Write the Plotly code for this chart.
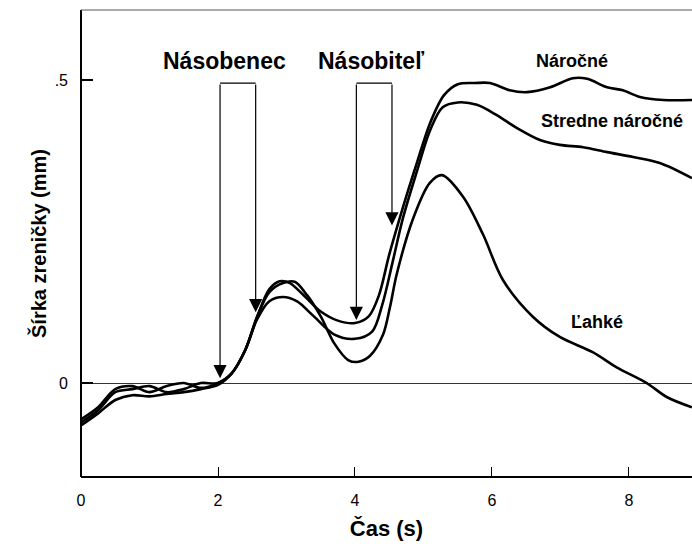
import plotly.graph_objects as go

# ---- data ----
t_narocne = [0, 0.25, 0.5, 0.75, 1.0, 1.25, 1.5, 1.75, 2.0, 2.2, 2.4, 2.57, 2.75, 2.9, 3.05, 3.25, 3.5, 3.75,
             4.0, 4.2, 4.35, 4.5, 4.7, 4.9, 5.1, 5.3, 5.5, 5.75, 5.97, 6.26, 6.51, 6.85, 7.18, 7.39, 7.68,
             7.91, 8.16, 8.5, 8.92]
y_narocne = [-0.06, -0.04, -0.01, -0.005, -0.015, -0.005, 0.0, -0.008, 0.0, 0.016, 0.055, 0.109, 0.155, 0.168,
             0.165, 0.145, 0.118, 0.103, 0.099, 0.11, 0.145, 0.212, 0.29, 0.362, 0.43, 0.475, 0.493, 0.495,
             0.495, 0.483, 0.48, 0.488, 0.503, 0.502, 0.488, 0.483, 0.472, 0.467, 0.467]

t_stredne = [0, 0.25, 0.5, 0.75, 1.0, 1.25, 1.5, 1.75, 2.0, 2.2, 2.4, 2.57, 2.75, 2.95, 3.15, 3.4, 3.7, 4.0,
             4.25, 4.4, 4.55, 4.7, 4.9, 5.1, 5.28, 5.5, 5.78, 6.07, 6.36, 6.7, 6.99, 7.33, 7.68, 8.06,
             8.45, 8.92]
y_stredne = [-0.065, -0.045, -0.015, -0.01, -0.005, -0.015, -0.01, 0.0, 0.0, 0.016, 0.055, 0.105, 0.135, 0.142,
             0.135, 0.11, 0.08, 0.073, 0.085, 0.13, 0.2, 0.272, 0.348, 0.418, 0.455, 0.463, 0.459, 0.442,
             0.421, 0.401, 0.393, 0.389, 0.381, 0.373, 0.363, 0.338]

t_lahke = [0, 0.25, 0.5, 0.75, 1.0, 1.25, 1.5, 1.75, 2.0, 2.2, 2.4, 2.57, 2.75, 2.95, 3.12, 3.3, 3.5, 3.7,
           3.9, 4.05, 4.22, 4.41, 4.51, 4.61, 4.85, 5.09, 5.27, 5.58, 5.87, 6.16, 6.6, 6.99, 7.47, 7.82,
           8.26, 8.55, 8.92]
y_lahke = [-0.07, -0.05, -0.028, -0.02, -0.022, -0.018, -0.015, -0.01, -0.003, 0.016, 0.055, 0.109, 0.15,
           0.165, 0.167, 0.145, 0.11, 0.065, 0.038, 0.035, 0.045, 0.08, 0.125, 0.18, 0.272, 0.33, 0.343,
           0.307, 0.245, 0.17, 0.109, 0.076, 0.051, 0.026, 0.0, -0.023, -0.04]

series_names = ["Náročné", "Stredne náročné", "Ľahké"]

x_tick_vals = [0, 2, 4, 6, 8]
x_tick_text = ["0", "2", "4", "6", "8"]
y_tick_vals = [0, 0.5]
y_tick_text = ["0", ".5"]

# arrow brackets: (label, label x, left x, left tip y, right x, right tip y)
bracket_labels = ["Násobenec", "Násobiteľ"]
bracket_label_x = [2.09, 4.24]
bracket_left_x = [2.03, 4.02]
bracket_left_tip = [0.008, 0.104]
bracket_right_x = [2.55, 4.54]
bracket_right_tip = [0.117, 0.26]
bracket_top = 0.495
bracket_label_y = 0.532

FONT = "Liberation Sans, Arial, sans-serif"

fig = go.Figure()
for t, y, name in [(t_narocne, y_narocne, series_names[0]),
                   (t_stredne, y_stredne, series_names[1]),
                   (t_lahke, y_lahke, series_names[2])]:
    fig.add_trace(go.Scatter(x=t, y=y, mode="lines", name=name,
                             line=dict(color="black", width=2.6, shape="spline", smoothing=0.9)))

annotations = []
shapes = []
for lab, lbx, lx, lt, rx, rt in zip(bracket_labels, bracket_label_x, bracket_left_x, bracket_left_tip,
                                    bracket_right_x, bracket_right_tip):
    shapes.append(dict(type="line", xref="x", yref="y", x0=lx, x1=rx, y0=bracket_top, y1=bracket_top,
                       line=dict(color="black", width=1.2)))
    for xx, tip in [(lx, lt), (rx, rt)]:
        annotations.append(dict(x=xx, y=tip, ax=xx, ay=bracket_top, xref="x", yref="y", axref="x",
                                ayref="y", text="", showarrow=True, arrowhead=2, arrowsize=2.2,
                                arrowwidth=1.2, arrowcolor="black", standoff=0, startstandoff=0))
    annotations.append(dict(x=lbx, y=bracket_label_y, xref="x", yref="y",
                            text="<b>%s</b>" % lab, showarrow=False, yanchor="middle",
                            font=dict(family=FONT, size=23, color="black")))

# curve labels
annotations.append(dict(x=7.17, y=0.532, xref="x", yref="y", text="<b>Náročné</b>", showarrow=False,
                        font=dict(family=FONT, size=18, color="black")))
annotations.append(dict(x=7.75, y=0.432, xref="x", yref="y", text="<b>Stredne náročné</b>", showarrow=False,
                        font=dict(family=FONT, size=18, color="black")))
annotations.append(dict(x=7.53, y=0.10, xref="x", yref="y", text="<b>Ľahké</b>", showarrow=False,
                        font=dict(family=FONT, size=18, color="black")))

# frame: thick left & bottom, thin top
shapes.append(dict(type="line", xref="paper", yref="paper", x0=0, x1=0, y0=0, y1=1,
                   line=dict(color="black", width=2)))
shapes.append(dict(type="line", xref="paper", yref="paper", x0=0, x1=1, y0=0, y1=0,
                   line=dict(color="black", width=2)))
shapes.append(dict(type="line", xref="paper", yref="paper", x0=0, x1=1, y0=1, y1=1,
                   line=dict(color="#555555", width=1)))

fig.update_layout(
    width=692, height=544,
    margin=dict(l=81, r=0, t=10, b=67),
    paper_bgcolor="white", plot_bgcolor="white",
    showlegend=False,
    font=dict(family=FONT, color="black"),
    annotations=annotations,
    shapes=shapes,
    xaxis=dict(range=[0, 8.92], tickvals=x_tick_vals, ticktext=x_tick_text, ticks="inside", ticklen=10,
               tickwidth=1, tickcolor="black", showgrid=False, zeroline=False, showline=False,
               ticklabelstandoff=12,
               tickfont=dict(family=FONT, size=16, color="black"),
               title=dict(text="<b>Čas (s)</b>", font=dict(family=FONT, size=22, color="black"), standoff=12)),
    yaxis=dict(range=[-0.155, 0.6155], tickvals=y_tick_vals, ticktext=y_tick_text, ticks="inside", ticklen=12,
               tickwidth=1.5, tickcolor="black", showgrid=False, zeroline=True, zerolinecolor="#333333",
               zerolinewidth=1, showline=False, ticklabelstandoff=12,
               tickfont=dict(family=FONT, size=16, color="black"),
               title=dict(text="<b>Šírka zreničky (mm)</b>", font=dict(family=FONT, size=20, color="black"),
                          standoff=2)),
)

fig.write_html("out.html")
